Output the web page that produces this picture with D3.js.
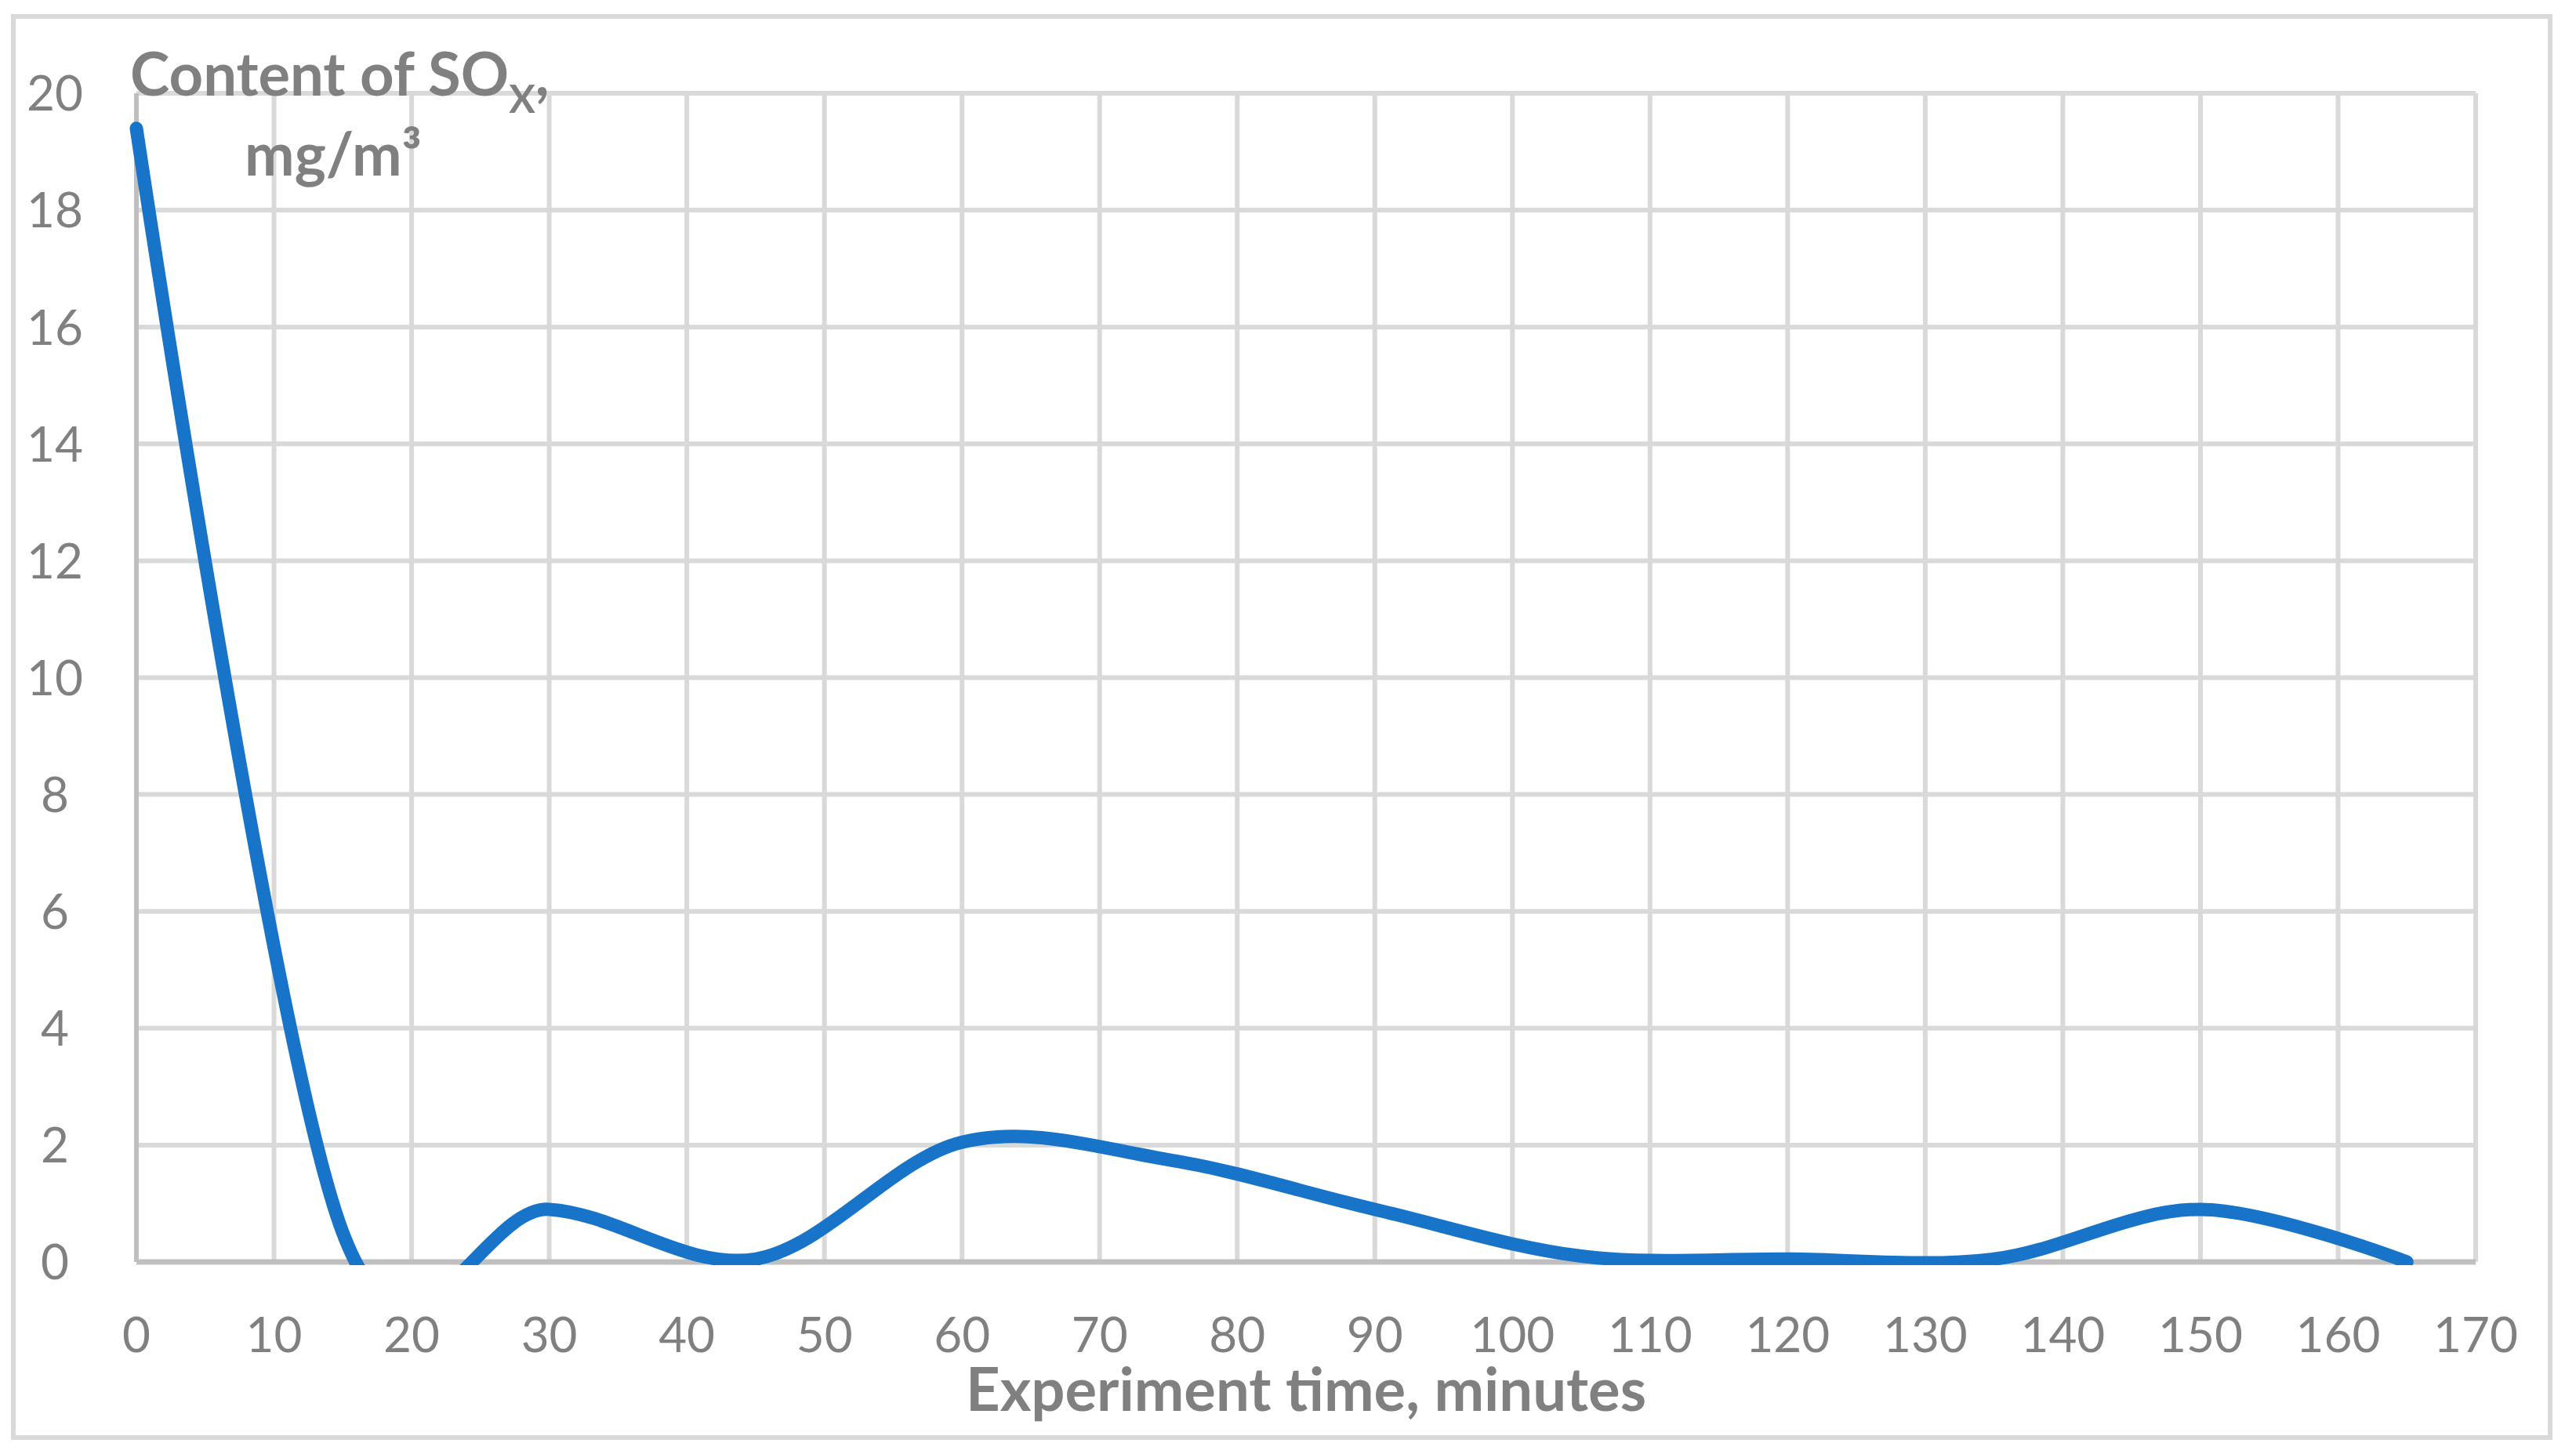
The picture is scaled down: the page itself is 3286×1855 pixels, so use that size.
<!DOCTYPE html>
<html><head><meta charset="utf-8">
<script src="https://cdn.jsdelivr.net/npm/d3@7"></script>
<style>body{margin:0;background:#fff}</style>
</head><body>
<svg id="chart" width="3286" height="1855"></svg>
<script>
const times = [0, 15, 30, 45, 60, 75, 90, 105, 120, 135, 150, 165];
const sox = [19.4, 0.5, 0.9, 0.05, 2.05, 1.75, 0.9, 0.1, 0.05, 0.05, 0.9, 0];
const xTicks = d3.range(0, 171, 10);
const yTicks = d3.range(0, 21, 2);

const width = 3286, height = 1855;
const margin = { top: 119, right: 128, bottom: 245, left: 174 };
const font = "Lato, 'Open Sans', sans-serif";
const grey = "#808080";

const svg = d3.select("#chart");

// outer border
svg.append("rect").attr("x", 17).attr("y", 21).attr("width", 3236).attr("height", 1813)
  .attr("fill", "none").attr("stroke", "#d9d9d9").attr("stroke-width", 6);

const x = d3.scaleLinear().domain([0, 170]).range([margin.left, width - margin.right]);
const y = d3.scaleLinear().domain([0, 20]).range([height - margin.bottom, margin.top]);

// grid
svg.append("g").selectAll("line").data(yTicks).join("line")
  .attr("x1", x(0)).attr("x2", x(170)).attr("y1", d => y(d)).attr("y2", d => y(d))
  .attr("stroke", "#d9d9d9").attr("stroke-width", 6);
svg.append("g").selectAll("line").data(xTicks).join("line")
  .attr("y1", y(0)).attr("y2", y(20)).attr("x1", d => x(d)).attr("x2", d => x(d))
  .attr("stroke", "#d9d9d9").attr("stroke-width", 6);
// axis lines
svg.append("line").attr("x1", x(0)).attr("x2", x(170)).attr("y1", y(0)).attr("y2", y(0))
  .attr("stroke", "#bfbfbf").attr("stroke-width", 7);
svg.append("line").attr("x1", x(0)).attr("x2", x(0)).attr("y1", y(0)).attr("y2", y(20))
  .attr("stroke", "#bfbfbf").attr("stroke-width", 6);

// tick labels
svg.append("g").selectAll("text").data(yTicks).join("text")
  .attr("x", 70).attr("y", d => y(d)).attr("dy", "0.36em").attr("text-anchor", "middle")
  .attr("font-family", font).attr("font-size", 62).attr("fill", grey).text(d => d);
svg.append("g").selectAll("text").data(xTicks).join("text")
  .attr("x", d => x(d)).attr("y", 1725).attr("text-anchor", "middle")
  .attr("font-family", font).attr("font-size", 62).attr("fill", grey).text(d => d);

// line
svg.append("clipPath").attr("id", "clip").append("rect")
  .attr("x", 0).attr("y", 0).attr("width", width).attr("height", y(0) + 4);
const line = d3.line().x(d => x(d[0])).y(d => y(d[1])).curve(d3.curveCardinal.tension(0));
svg.append("path").datum(times.map((t, i) => [t, sox[i]]))
  .attr("d", line).attr("clip-path", "url(#clip)")
  .attr("fill", "none").attr("stroke", "#1874c8").attr("stroke-width", 17)
  .attr("stroke-linecap", "round").attr("stroke-linejoin", "round");

// axis titles
const yt = svg.append("text").attr("x", 166).attr("y", 122)
  .attr("font-family", font).attr("font-size", 76).attr("font-weight", "bold").attr("fill", grey);
yt.append("tspan").text("Content of SO");
yt.append("tspan").attr("font-size", 50).attr("dy", 22).text("X");
yt.append("tspan").attr("dy", -22).text(",");
const yt2 = svg.append("text").attr("x", 425).attr("y", 224).attr("text-anchor", "middle")
  .attr("font-family", font).attr("font-size", 76).attr("font-weight", "bold").attr("fill", grey);
yt2.text("mg/m³");
svg.append("text").attr("x", 1666).attr("y", 1800).attr("text-anchor", "middle")
  .attr("font-family", font).attr("font-size", 76).attr("font-weight", "bold").attr("fill", grey)
  .text("Experiment time, minutes");
</script>
</body></html>
